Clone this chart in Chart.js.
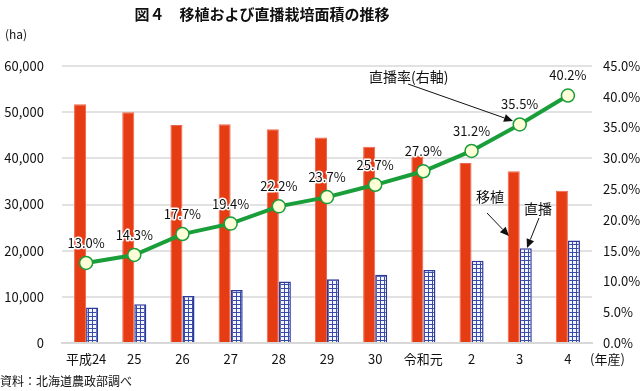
<!DOCTYPE html>
<html><head><meta charset="utf-8">
<script src="https://cdn.jsdelivr.net/npm/chart.js@4"></script>
<style>html,body{margin:0;padding:0;background:#fff}#w{width:640px;height:391px;position:relative}</style>
</head><body><div id="w"><canvas id="c"></canvas></div>
<script>
const categories = ['平成24','25','26','27','28','29','30','令和元','2','3','4'];
const transplant = [51700, 50000, 47200, 47400, 46300, 44500, 42500, 40600, 39000, 37200, 33000];
const directSeed = [7700, 8400, 10200, 11500, 13300, 13800, 14800, 15800, 17800, 20500, 22200];
const directRate = [13.0, 14.3, 17.7, 19.4, 22.2, 23.7, 25.7, 27.9, 31.2, 35.5, 40.2];
const leftTicks = [0, 10000, 20000, 30000, 40000, 50000, 60000];
const rightTicks = [0, 5, 10, 15, 20, 25, 30, 35, 40, 45];

const FONT = '"Noto Sans CJK JP", "Noto Sans", sans-serif';

function gridPattern() {
  const p = document.createElement('canvas');
  p.width = 4; p.height = 4;
  const g = p.getContext('2d');
  g.fillStyle = '#f3f5ff'; g.fillRect(0, 0, 4, 4);
  g.fillStyle = '#3a4aa8';
  g.fillRect(0, 0, 4, 1);
  g.fillRect(0, 0, 1, 4);
  return g.createPattern(p, 'repeat');
}

function arrow(ctx, x1, y1, x2, y2) {
  const a = Math.atan2(y2 - y1, x2 - x1), L = 9, W = 4;
  const bx = x2 - L * Math.cos(a), by = y2 - L * Math.sin(a);
  ctx.beginPath(); ctx.moveTo(x1, y1); ctx.lineTo(bx, by);
  ctx.strokeStyle = '#111'; ctx.lineWidth = 1; ctx.stroke();
  ctx.beginPath(); ctx.moveTo(x2, y2);
  ctx.lineTo(bx + W * Math.sin(a), by - W * Math.cos(a));
  ctx.lineTo(bx - W * Math.sin(a), by + W * Math.cos(a));
  ctx.closePath(); ctx.fillStyle = '#111'; ctx.fill();
}

const extras = {
  id: 'extras',
  afterDatasetsDraw(chart) {
    const ctx = chart.ctx;
    ctx.save();
    const meta = chart.getDatasetMeta(2);
    ctx.font = '13px ' + FONT;
    ctx.textAlign = 'center'; ctx.textBaseline = 'middle';
    meta.data.forEach((pt, i) => {
      const t = directRate[i].toFixed(1) + '%';
      ctx.lineWidth = 3; ctx.strokeStyle = '#fff'; ctx.lineJoin = 'round';
      ctx.strokeText(t, pt.x, pt.y - 20);
      ctx.fillStyle = '#111'; ctx.fillText(t, pt.x, pt.y - 20);
    });
    ctx.font = '14px ' + FONT;
    ctx.fillStyle = '#111';
    ctx.textAlign = 'left';
    ctx.fillText('直播率(右軸)', 369, 77);
    ctx.fillText('移植', 476, 197);
    ctx.fillText('直播', 524, 209);
    arrow(ctx, 408, 84, 513, 121);
    arrow(ctx, 487, 213, 509, 236);
    arrow(ctx, 539, 218, 527, 248);
    ctx.font = 'bold 15px ' + FONT;
    ctx.textAlign = 'center';
    ctx.fillText('図４　移植および直播栽培面積の推移', 262, 14);
    ctx.font = '12px ' + FONT;
    ctx.textAlign = 'left';
    ctx.fillText('(ha)', 5, 34);
    ctx.font = '13px ' + FONT;
    ctx.fillText('(年産)', 590, 359);
    ctx.font = '12px ' + FONT;
    ctx.fillText('資料：北海道農政部調べ', 0, 381);
    ctx.restore();
  }
};

new Chart(document.getElementById('c'), {
  type: 'bar',
  data: {
    labels: categories,
    datasets: [
      { label: '移植', data: transplant, backgroundColor: '#e63c14', borderColor: '#f0664a', borderWidth: 1,
        yAxisID: 'y', order: 2, categoryPercentage: 0.5, barPercentage: 1.0 },
      { label: '直播', data: directSeed, backgroundColor: gridPattern(), borderColor: '#2b3a9a', borderWidth: 1.5,
        yAxisID: 'y', order: 2, categoryPercentage: 0.5, barPercentage: 1.0 },
      { type: 'line', label: '直播率', data: directRate, yAxisID: 'y1', order: 1,
        borderColor: '#1a9e3a', borderWidth: 4, pointRadius: 6.5, pointBackgroundColor: '#ffffd8',
        pointBorderColor: '#1a9e3a', pointBorderWidth: 1.5, tension: 0 }
    ]
  },
  options: {
    responsive: true, maintainAspectRatio: false, animation: false,
    layout: { padding: { top: 66, left: 0, right: 0, bottom: 0 } },
    plugins: { legend: { display: false }, tooltip: { enabled: false }, title: { display: false } },
    scales: {
      x: {
        grid: { display: false, drawTicks: false },
        border: { display: true, color: '#d8d8d8', width: 2 },
        ticks: { color: '#111', font: { family: FONT, size: 13 }, padding: 8, maxRotation: 0, autoSkip: false },
        afterFit(s) { s.height = 48; }
      },
      y: {
        position: 'left', min: 0, max: 60000,
        afterBuildTicks(s) { s.ticks = leftTicks.map(v => ({ value: v })); },
        grid: { color: '#e2e2e2', lineWidth: 2, drawTicks: false },
        border: { display: false },
        ticks: { color: '#111', font: { family: FONT, size: 13 }, padding: 18,
          callback: v => v.toLocaleString('en-US') },
        afterFit(s) { s.width = 62; }
      },
      y1: {
        position: 'right', min: 0, max: 45,
        afterBuildTicks(s) { s.ticks = rightTicks.map(v => ({ value: v })); },
        grid: { display: false, drawTicks: false },
        border: { display: false },
        ticks: { color: '#111', font: { family: FONT, size: 13 }, padding: 11,
          callback: v => v.toFixed(1) + '%' },
        afterFit(s) { s.width = 48; }
      }
    }
  },
  plugins: [extras]
});
</script>
</body></html>
